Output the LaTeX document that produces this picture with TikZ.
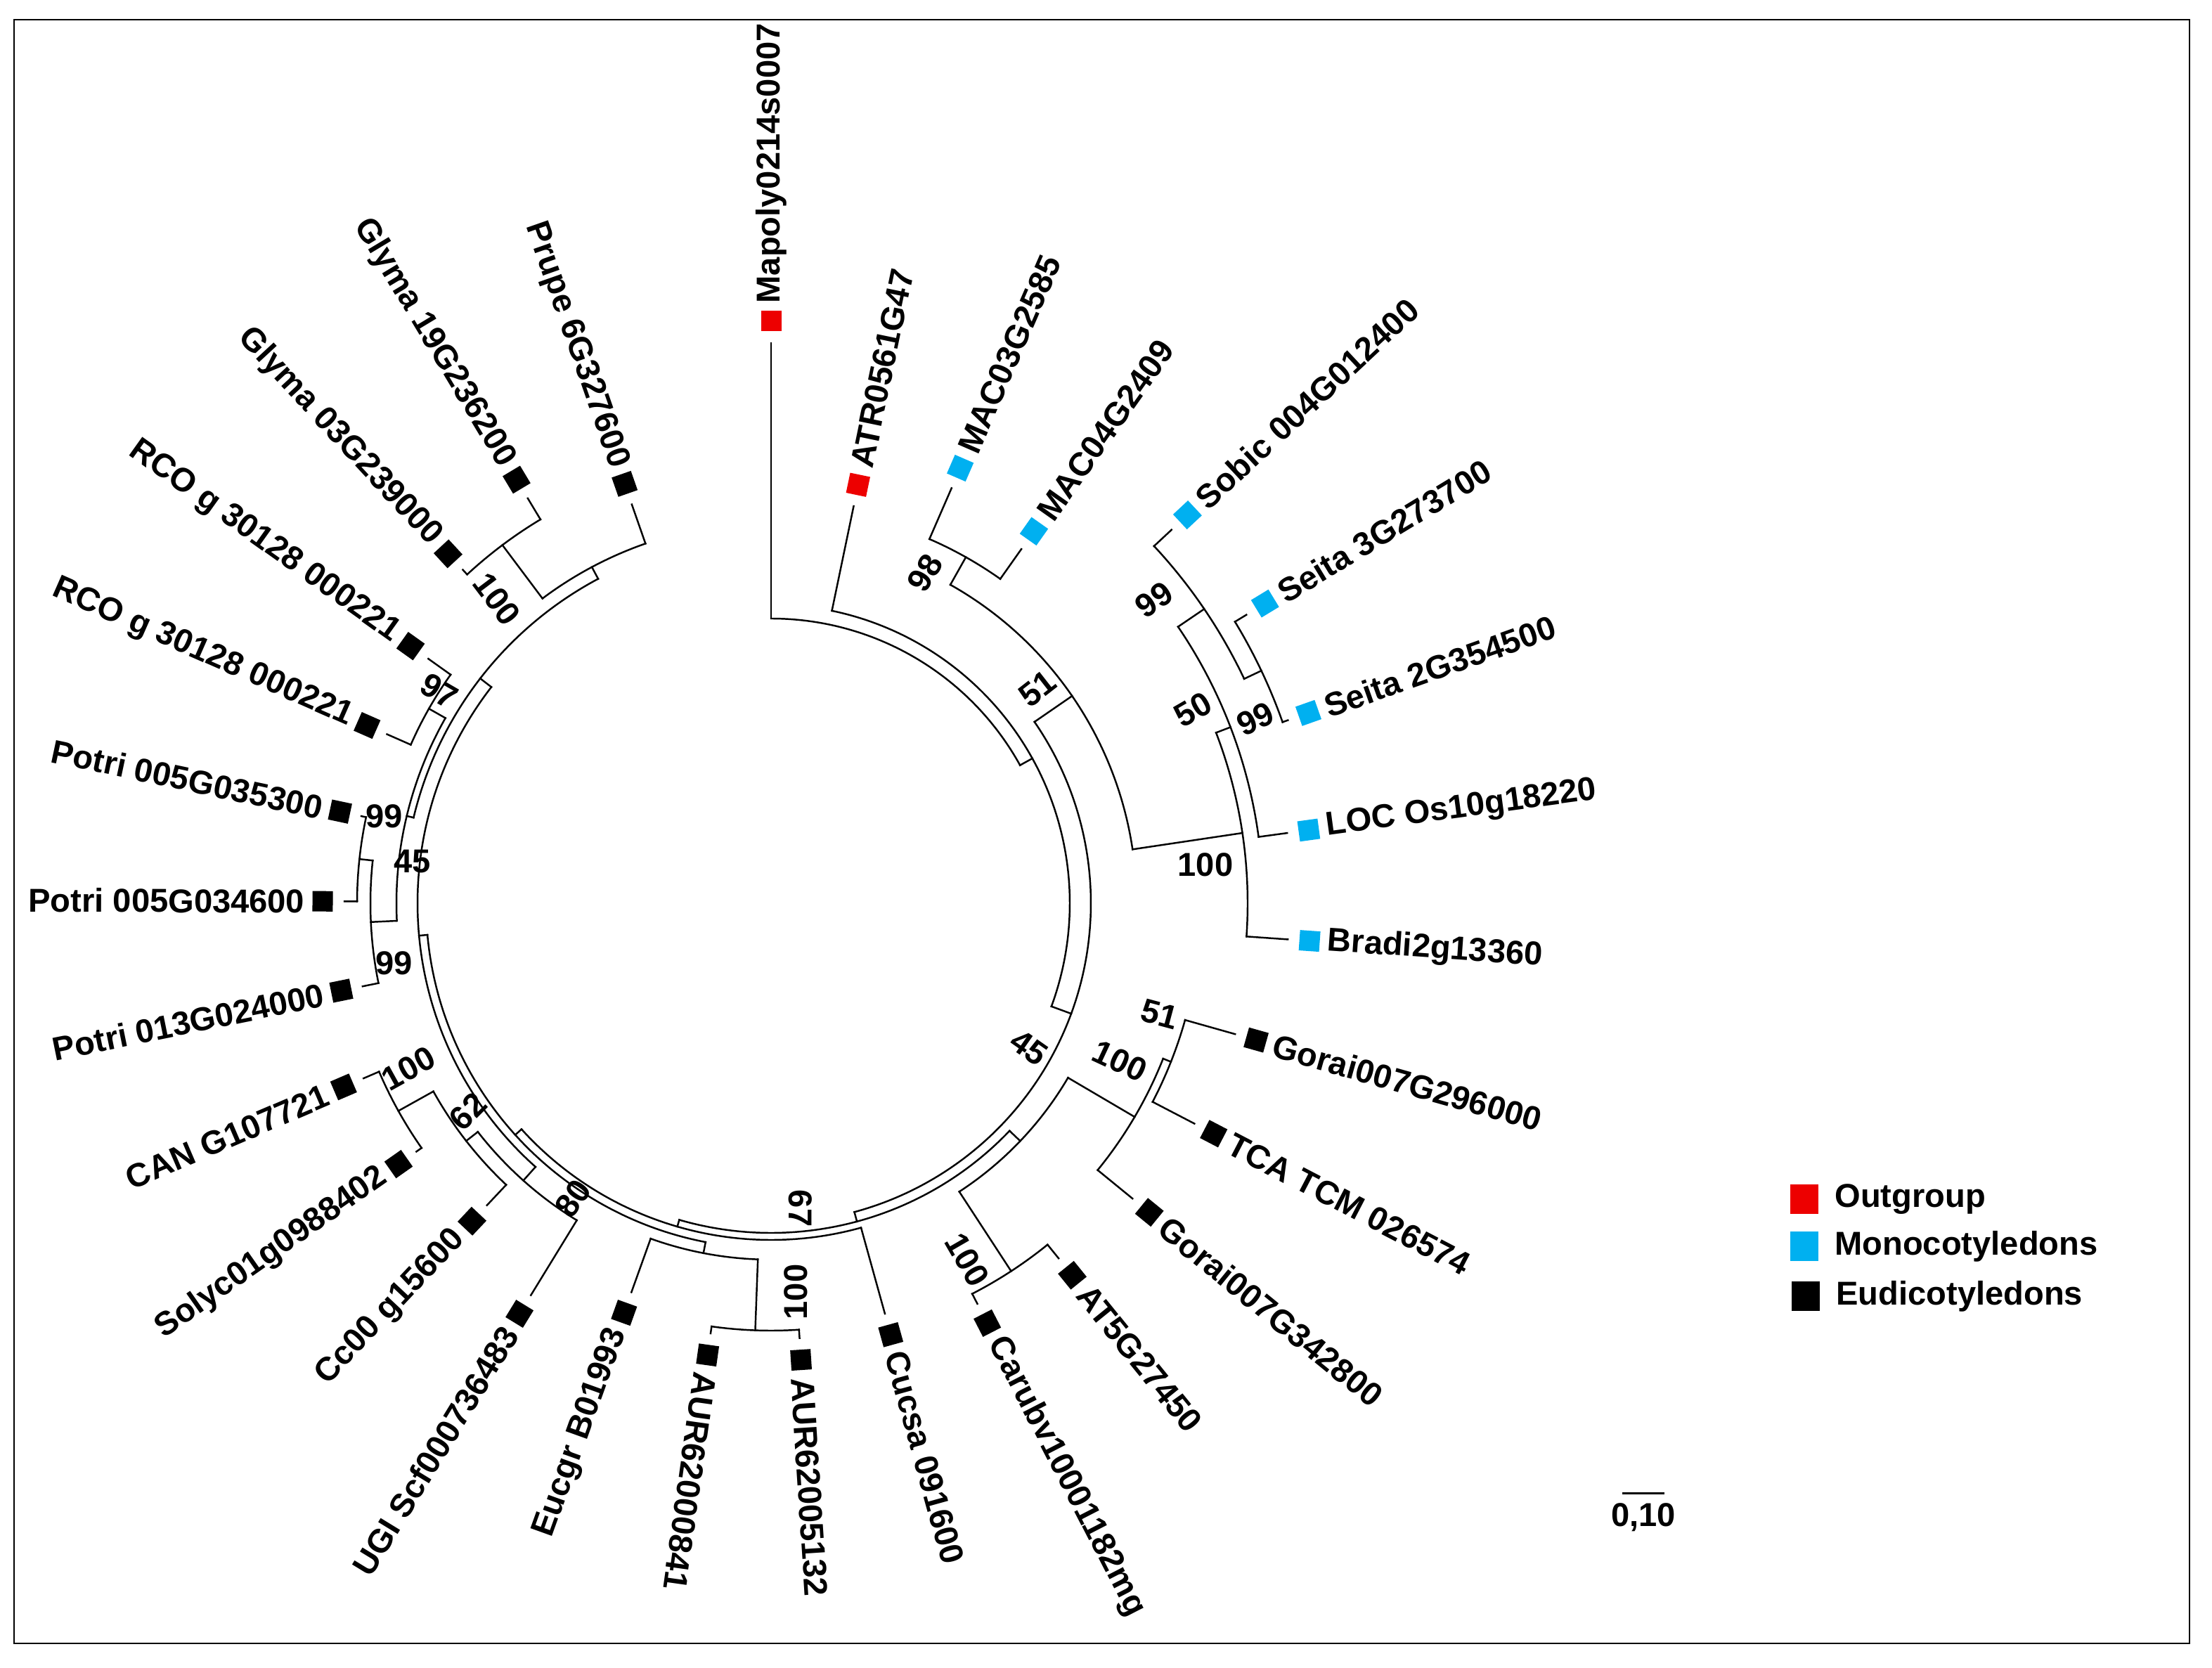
\documentclass[tikz,border=0pt]{standalone}
\usepackage{fontspec}
\setmainfont{Liberation Sans}
\usetikzlibrary{positioning}
\definecolor{outred}{RGB}{237,0,0}
\definecolor{monoblue}{RGB}{0,176,240}

\begin{document}
\begin{tikzpicture}
    \tikzset{
        branch/.style={line width=0.7pt, line cap=rect},
        taxon/.style={font=\fontsize{13.4}{15}\selectfont\bfseries, inner sep=0pt},
        boot/.style={font=\fontsize{13.4}{15}\selectfont\bfseries, inner sep=0pt},
        tip/.style={rectangle, minimum size=0.29cm, inner sep=0pt, fill=#1},
        keybox/.style={rectangle, minimum width=0.40cm, minimum height=0.42cm, inner sep=0pt, fill=#1},
    }
    \useasboundingbox (-10.97,-10.87) rectangle (20.50,12.85);
    \draw[line width=0.6pt] (-10.77,-10.53) rectangle (20.18,12.57);

    % inner nodes: name/angle/radius/radius of parent
    \foreach \nm/\a/\r/\rp in {
        angio/29/4.25/4.05, mesang/-20.2/4.55/4.25, mono/34.55/5.20/4.55,
        macpair/60.625/5.65/5.20, grass/8.48/6.78/5.20, grassA/20.97/7.00/6.78,
        grassB/34.19/7.45/7.00, seitapair/25.375/7.72/7.45,
        eudi/-74.9/4.69/4.55, malv/-43.66/4.90/4.69, malvA/-30.44/6.00/4.90,
        gorpair/-21.625/6.12/6.00, brass/-56.875/6.25/4.90,
        coreA/-106.17/4.79/4.69, coreB/-137.84/4.91/4.79, chen/-100.94/5.07/4.91,
        aurpair/-92.125/6.08/5.07, coreC/-174.74/5.03/4.91,
        aster/-131.78/5.29/5.03, solan/-142.06/5.50/5.29, capsol/-150.875/6.07/5.50,
        rosid/-217.7/5.23/5.03, malpi/-193.47/5.33/5.23, poplar/-177.31/5.70/5.33,
        potpair/-186.125/5.89/5.70, rcopair/-209.625/5.60/5.33,
        fabros/-241.94/5.42/5.23, glypair/-233.125/6.37/5.42}{
        \coordinate (\nm) at (\a:\r);
        \coordinate (\nm-f) at (\a:\rp);
        \draw[branch] (\nm-f) -- (\nm);
    }

    % leaves: name/angle/tip/parent/colour/anchor/text angle/label
    \foreach \nm/\a/\r/\rp/\col/\anc/\rot/\txt in {
        mapoly/90/7.97/4.05/outred/west/90/Mapoly0214s0007,
        atr/78.25/5.77/4.25/outred/west/78.25/ATR0561G47,
        mac03/66.5/6.44/5.65/monoblue/west/66.5/MAC03G2585,
        mac04/54.75/6.17/5.65/monoblue/west/54.75/MAC04G2409,
        sobic/43/7.79/7.45/monoblue/west/43/Sobic 004G012400,
        seita3/31.25/7.91/7.72/monoblue/west/31.25/Seita 3G273700,
        seita2/19.5/7.80/7.72/monoblue/west/19.5/Seita 2G354500,
        loc/7.75/7.41/7.00/monoblue/west/7.75/LOC Os10g18220,
        bradi/-4/7.37/6.78/monoblue/west/-4/Bradi2g13360,
        gorai296/-15.75/6.86/6.12/black/west/-15.75/Gorai007G296000,
        tca/-27.5/6.79/6.12/black/west/-27.5/TCA TCM 026574,
        gorai342/-39.25/6.64/6.00/black/west/-39.25/Gorai007G342800,
        at5/-51/6.50/6.25/black/west/-51/AT5G27450,
        carubv/-62.75/6.41/6.25/black/west/-62.75/Carubv10001182mg,
        cucsa/-74.5/6.06/4.79/black/west/-74.5/Cucsa 091600,
        aur5132/-86.25/6.20/6.08/black/west/-86.25/AUR62005132,
        aur0841/-98/6.18/6.08/black/west/-98/AUR62000841,
        eucgr/-109.75/5.88/5.07/black/east/70.25/Eucgr B01993,
        ugi/-121.5/6.54/5.29/black/east/58.5/UGI Scf000736483,
        cc00/-133.25/5.90/5.50/black/east/46.75/Cc00 g15600,
        solyc/-145/6.16/6.07/black/east/35/Solyc01g0988402,
        can/-156.75/6.31/6.07/black/east/23.25/CAN G107721,
        potri013/-168.5/5.93/5.70/black/east/11.5/Potri 013G024000,
        potri0346/-180.25/6.07/5.89/black/east/-0.25/Potri 005G034600,
        potri0353/-192/5.96/5.89/black/east/-12/Potri 005G035300,
        rcob/-203.75/5.97/5.60/black/east/-23.75/RCO g 30128 000221,
        rcoa/-215.5/5.99/5.60/black/east/-35.5/RCO g 30128 000221,
        glyma03/-227.25/6.46/6.37/black/east/-47.25/Glyma 03G239000,
        glyma19/-239/6.72/6.37/black/east/-59/Glyma 19G236200,
        prupe/-250.75/6.01/5.42/black/east/-70.75/Prupe 6G327600}{
        \coordinate (\nm-f) at (\a:\rp);
        \coordinate (\nm) at (\a:\r);
        \draw[branch] (\nm-f) -- (\nm);
        \node[tip=\col, rotate=\a] (\nm-sq) at (\a:\r+0.31) {};
        \node[taxon, anchor=\anc, rotate=\rot] (\nm-lab) at (\a:\r+0.56) {\txt};
    }

    % clade arcs: first child foot/start angle/end angle/radius
    \foreach \st/\a/\b/\r in {
        mapoly-f/90/29/4.05, atr-f/78.25/-20.2/4.25, mono-f/34.55/-74.9/4.55,
        macpair-f/60.625/8.48/5.20, mac03-f/66.5/54.75/5.65,
        grassA-f/20.97/-4/6.78, grassB-f/34.19/7.75/7.00,
        sobic-f/43/25.375/7.45, seita3-f/31.25/19.5/7.72,
        malv-f/-43.66/-106.17/4.69, malvA-f/-30.44/-56.875/4.90,
        gorpair-f/-21.625/-39.25/6.00, gorai296-f/-15.75/-27.5/6.12,
        at5-f/-51/-62.75/6.25, cucsa-f/-74.5/-137.84/4.79,
        chen-f/-100.94/-174.74/4.91, aurpair-f/-92.125/-109.75/5.07,
        aur5132-f/-86.25/-98/6.08, aster-f/-131.78/-217.7/5.03,
        ugi-f/-121.5/-142.06/5.29, cc00-f/-133.25/-150.875/5.50,
        solyc-f/-145/-156.75/6.07, malpi-f/-193.47/-241.94/5.23,
        poplar-f/-177.31/-209.625/5.33, potri013-f/-168.5/-186.125/5.70,
        potri0346-f/-180.25/-192/5.89, rcob-f/-203.75/-215.5/5.60,
        glypair-f/-233.125/-250.75/5.42, glyma03-f/-227.25/-239/6.37}{
        \draw[branch] (\st) arc[start angle=\a, end angle=\b, radius=\r];
    }

    % bootstrap values
    \foreach \nm/\px/\py/\rot/\val in {
        macpair/2.19/4.70/60/98, grassB/5.45/4.32/35/99, seitapair/6.89/2.62/25/99,
        grassA/6.00/2.76/30/50, grass/6.18/0.55/0/100, mono/3.79/3.05/38/51,
        mesang/3.67/-2.05/-35/45, gorpair/5.53/-1.58/-15/51, malvA/4.96/-2.24/-25/100,
        brass/2.79/-5.07/-60/100, eudi/0.42/-4.34/-90/67, aurpair/0.35/-5.53/90/100,
        aster/-2.82/-4.20/55/80, solan/-4.31/-2.96/45/62, capsol/-5.16/-2.35/29/100,
        poplar/-5.36/-0.85/0/99, malpi/-5.10/0.59/0/45, potpair/-5.50/1.24/0/99,
        rcopair/-4.72/3.02/-30/97, glypair/-3.90/4.33/-53/100}{
        \node[boot, rotate=\rot] (bs-\nm) at (\px,\py) {\val};
    }

    % legend
    \node[keybox=outred] (key-out) at (14.70,-4.21) {};
    \node[keybox=monoblue] (key-mono) at (14.70,-4.88) {};
    \node[keybox=black] (key-eudi) at (14.72,-5.59) {};
    \node[taxon, right=0.22cm of key-out] (key-out-txt) {Outgroup};
    \node[taxon, right=0.22cm of key-mono] (key-mono-txt) {Monocotyledons};
    \node[taxon, right=0.22cm of key-eudi] (key-eudi-txt) {Eudicotyledons};

    % scale bar
    \coordinate (bar-l) at (12.11,-8.395);
    \coordinate (bar-r) at (12.71,-8.395);
    \draw[line width=0.8pt] (bar-l) -- (bar-r);
    \node[boot, anchor=north] (bar-txt) at (12.41,-8.53) {0,10};
\end{tikzpicture}
\end{document}
